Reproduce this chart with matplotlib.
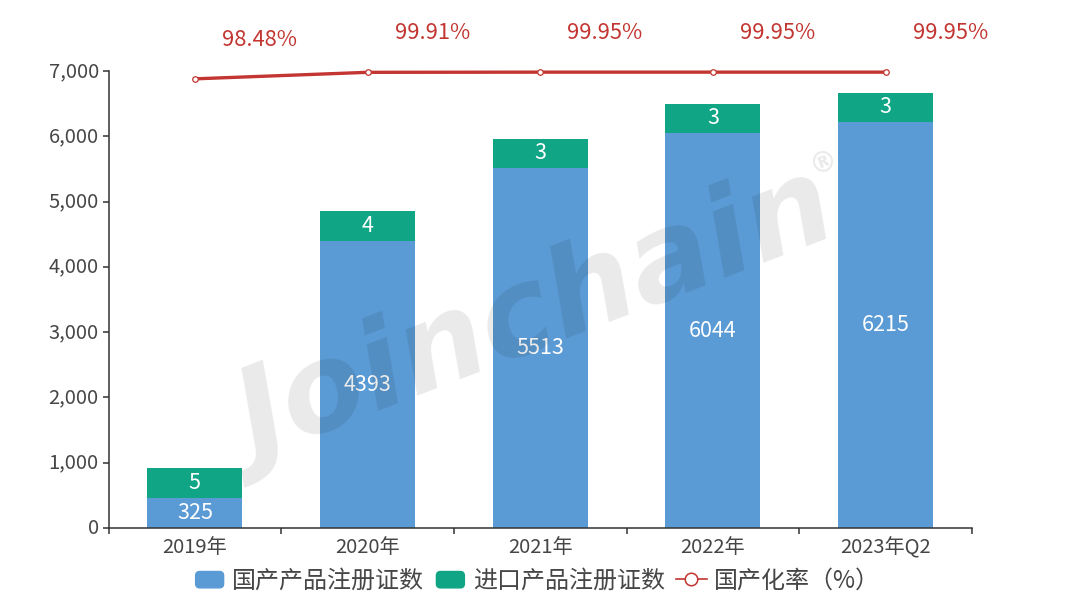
"""Registered product certificates by year, with the domestic share line."""
import matplotlib
matplotlib.use("Agg")
import matplotlib.pyplot as plt
from matplotlib.legend_handler import HandlerPatch
from matplotlib.lines import Line2D
from matplotlib.patches import FancyBboxPatch, Patch
from matplotlib.ticker import FixedLocator, FuncFormatter
from matplotlib.transforms import ScaledTranslation

years = ["2019年", "2020年", "2021年", "2022年", "2023年Q2"]
# the bars in the picture are not drawn to their labels (325 is ~460 tall, 3 is ~450 tall)
domestic_heights = [460, 4393, 5513, 6044, 6215]
imported_heights = [460, 460, 450, 450, 450]
domestic_labels = ["325", "4393", "5513", "6044", "6215"]
imported_labels = ["5", "4", "3", "3", "3"]
domestic_rate = [98.48, 99.91, 99.95, 99.95, 99.95]
yticks = [0, 1000, 2000, 3000, 4000, 5000, 6000, 7000]

BLUE = "#5b9bd5"
GREEN = "#10a585"
RED = "#c23531"
TEXT = "#464646"
AXIS = "#333333"


class RoundedHandler(HandlerPatch):
    def create_artists(self, legend, orig_handle, xdescent, ydescent, width, height, fontsize, trans):
        box = FancyBboxPatch(
            (-xdescent + 1, -ydescent + 1), width - 2, height - 2,
            boxstyle="round,pad=0,rounding_size=3",
            facecolor=orig_handle.get_facecolor(), edgecolor=orig_handle.get_facecolor(),
            linewidth=1, transform=trans,
        )
        return [box]


plt.rcParams["font.family"] = ["Noto Sans CJK SC", "DejaVu Sans"]

fig = plt.figure(figsize=(10.8, 6), dpi=100)
ax = fig.add_axes([108.5 / 1080, 1 - 528 / 600, (972 - 108.5) / 1080, (528 - 71) / 600])

x = list(range(len(years)))
ax.bar(x, domestic_heights, width=0.55, color=BLUE, zorder=2)
ax.bar(x, imported_heights, width=0.55, bottom=domestic_heights, color=GREEN, zorder=2)

ax.set_xlim(-0.5, 4.5)
ax.set_ylim(0, 7000)
ax.set_yticks(yticks)
ax.yaxis.set_major_formatter(FuncFormatter(lambda v, _: f"{int(v):,}"))
ax.xaxis.set_major_locator(FixedLocator([i - 0.5 for i in range(len(years) + 1)]))
ax.xaxis.set_minor_locator(FixedLocator(x))
ax.set_xticklabels([], minor=False)
ax.set_xticklabels(years, minor=True)
ax.tick_params(axis="x", which="major", length=4, width=1.1, color=AXIS)
ax.tick_params(axis="x", which="minor", length=0, pad=6.5, labelsize=14.5, labelcolor=TEXT)
ax.tick_params(axis="y", length=4, width=1.1, color=AXIS, pad=3, labelsize=14.5, labelcolor=TEXT)
for side in ["top", "right"]:
    ax.spines[side].set_visible(False)
for side in ["left", "bottom"]:
    ax.spines[side].set_color(AXIS)
    ax.spines[side].set_linewidth(1.1)

# y labels sit about 2px above their ticks in the original
nudge = ScaledTranslation(0, 1.5 / 72, fig.dpi_scale_trans)
for label in ax.get_yticklabels():
    label.set_transform(label.get_transform() + nudge)

# watermark sits over the bars
fig.text(537 / 1080, 1 - 322 / 600, "Joinchain", fontsize=88, fontweight="bold", style="italic",
         family="DejaVu Sans", color="black", alpha=0.085, rotation=21,
         ha="center", va="center", zorder=5, rotation_mode="anchor")
fig.text(823 / 1080, 1 - 163 / 600, "®", fontsize=20, fontweight="bold", family="DejaVu Sans",
         color="black", alpha=0.085, rotation=21, ha="center", va="center", zorder=5)

for i in x:
    ax.text(i, domestic_heights[i] / 2, domestic_labels[i], color="white", fontsize=15.5,
            ha="center", va="center", zorder=6)
    ax.text(i, domestic_heights[i] + imported_heights[i] / 2 + 5, imported_labels[i], color="white",
            fontsize=15.5, ha="center", va="center", zorder=6)

# rate line has its own 0-100 scale, hidden
ax2 = ax.twinx()
ax2.set_ylim(0, 100.2)
ax2.axis("off")
ax2.plot(x, domestic_rate, color=RED, linewidth=2.4, marker="o", markersize=4,
         markerfacecolor="white", markeredgecolor=RED, markeredgewidth=0.9, clip_on=False, zorder=4)
for i in x:
    ax2.annotate(f"{domestic_rate[i]:.2f}%", (i, domestic_rate[i]), xytext=(46.5, 28),
                 textcoords="offset points", color=RED, fontsize=15.8, ha="center", va="center",
                 annotation_clip=False)

handles = [
    Patch(facecolor=BLUE, label="国产产品注册证数"),
    Patch(facecolor=GREEN, label="进口产品注册证数"),
    Line2D([0], [0], color=RED, linewidth=1.2, marker="o", markersize=9, markerfacecolor="white",
           markeredgecolor=RED, markeredgewidth=1.1, label="国产化率（%）"),
]
legend = fig.legend(
    handles=handles, handler_map={Patch: RoundedHandler()},
    loc="center", bbox_to_anchor=(537 / 1080, 1 - 581 / 600), ncol=3, frameon=False,
    fontsize=17.3, labelcolor=TEXT, handlelength=1.28, handleheight=0.85, handletextpad=0.3,
    columnspacing=0.45, borderpad=0, borderaxespad=0,
)

fig.savefig("out.png", dpi=100)
